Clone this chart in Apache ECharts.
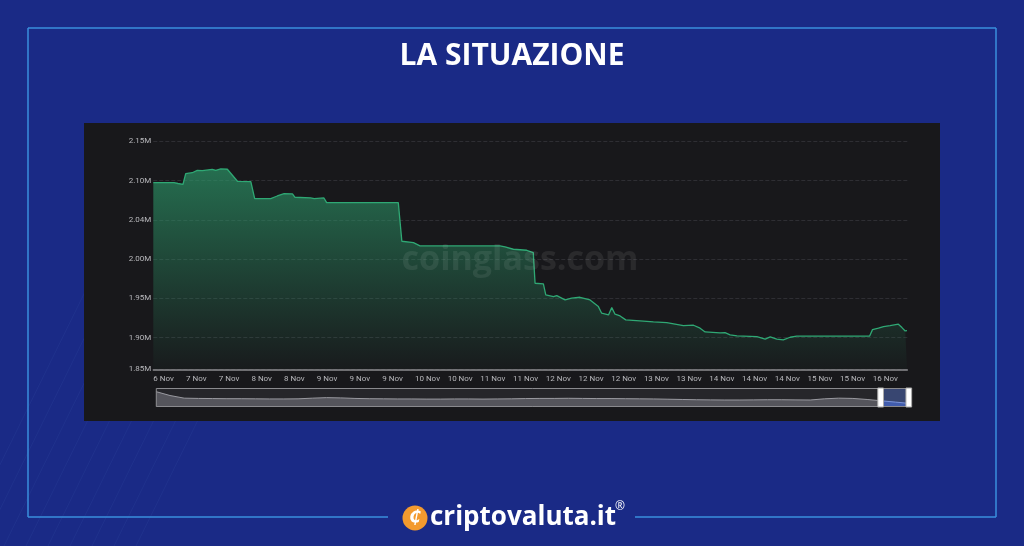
<!DOCTYPE html>
<html>
<head>
<meta charset="utf-8">
<script src="https://cdn.jsdelivr.net/npm/echarts@6/dist/echarts.min.js"></script>
<style>
html,body{margin:0;padding:0;background:#1a2a86;}
#c{width:1024px;height:546px;}
</style>
</head>
<body>
<div id="c"></div>
<script>
// x tick labels (one every 11 hours)
const xLabels = ['6 Nov','7 Nov','7 Nov','8 Nov','8 Nov','9 Nov','9 Nov','9 Nov','10 Nov','10 Nov','11 Nov','11 Nov','12 Nov','12 Nov','12 Nov','13 Nov','13 Nov','14 Nov','14 Nov','14 Nov','15 Nov','15 Nov','16 Nov'];
// y tick values and labels as shown on the source chart
const yTicks = [1859800,1900000,1950000,2000000,2050000,2100000,2150000];
const yLabels = ['1.85M','1.90M','1.95M','2.00M','2.04M','2.10M','2.15M'];
// hours since the first tick
const hours = [0,7.0,8.3,10.0,10.3,10.9,13.1,14.8,16.5,19.8,21.0,22.7,24.9,28.3,32.8,33.4,34.1,39.5,41.7,44.0,46.8,47.6,52.9,54.1,57.4,58.3,82.4,83.6,87.5,89.7,116.6,118.3,121.1,125.6,127.8,128.4,131.2,132.0,134.6,135.7,138.5,140.7,143.5,146.9,149.7,150.8,153.1,154.2,155.3,157.0,158.9,163.7,168.2,172.7,178.3,181.7,183.9,185.6,190.6,192.3,194.0,196.3,203.0,205.8,207.5,209.7,211.9,214.2,216.4,240.9,241.9,243.9,245.6,247.8,250.6,251.8,252.9,253.5];
// values
const values = [2097300,2097300,2096300,2095300,2095700,2108800,2110000,2113100,2112600,2114400,2113100,2114800,2114400,2099100,2098600,2098600,2077000,2077000,2080400,2083400,2083000,2078800,2077900,2077000,2077900,2071900,2071900,2022800,2021000,2016800,2016800,2015500,2012600,2011300,2008300,1969300,1968400,1954500,1952300,1953600,1948100,1950300,1951500,1948100,1939600,1931200,1929000,1938300,1929900,1927700,1922700,1921400,1920100,1919200,1915400,1915900,1912100,1907400,1906100,1906500,1903600,1902300,1901400,1898100,1901000,1898100,1897200,1900600,1901900,1901900,1910300,1912100,1914100,1915400,1917200,1912900,1908600,1909000];
// overview shape shown in the slider
const overview = [2150,2120,2100,2098,2097,2096,2096,2095,2094,2094,2095,2100,2104,2102,2098,2096,2095,2094,2094,2093,2093,2094,2094,2093,2094,2095,2097,2098,2098,2099,2098,2097,2097,2096,2095,2094,2092,2090,2088,2087,2086,2086,2087,2088,2088,2087,2086,2095,2100,2098,2090,2080,2070,2060];

const seriesData = hours.map((h, i) => [h, values[i]]);
const overviewData = overview.map((v, i) => [i, v]);

const stripes = [];
for (let k = 0; k < 9; k++) {
  const x0 = -40 + k * 22;
  stripes.push({type: 'line', z: -20, shape: {x1: x0, y1: 546, x2: x0 + 180, y2: 180}, style: {stroke: 'rgba(120,150,230,0.07)', lineWidth: 1}});
}

const chart = echarts.init(document.getElementById('c'), null, {renderer: 'canvas'});
const green = '#2fa874';
chart.setOption({
  backgroundColor: '#1a2a86',
  animation: false,
  graphic: stripes.concat([
    {type: 'rect', shape: {x: 84, y: 123, width: 856, height: 298}, style: {fill: '#18181b'}, z: -10},
    {type: 'line', shape: {x1: 28, y1: 28, x2: 996, y2: 28}, style: {stroke: '#3a8fdc', lineWidth: 1.5}},
    {type: 'line', shape: {x1: 28, y1: 28, x2: 28, y2: 517}, style: {stroke: '#3a8fdc', lineWidth: 1.5}},
    {type: 'line', shape: {x1: 996, y1: 28, x2: 996, y2: 517}, style: {stroke: '#3a8fdc', lineWidth: 1.5}},
    {type: 'line', shape: {x1: 28, y1: 517, x2: 388, y2: 517}, style: {stroke: '#3a8fdc', lineWidth: 1.5}},
    {type: 'line', shape: {x1: 635, y1: 517, x2: 996, y2: 517}, style: {stroke: '#3a8fdc', lineWidth: 1.5}},
    {type: 'text', x: 512, y: 56, style: {text: 'LA SITUAZIONE', fill: '#ffffff', font: 'bold 30px "Open Sans", Lato, sans-serif', textAlign: 'center', textVerticalAlign: 'middle'}},
    {type: 'text', x: 520, y: 260, z: 10, style: {text: 'coinglass.com', fill: 'rgba(255,255,255,0.08)', font: 'bold 34px "Open Sans", sans-serif', textAlign: 'center', textVerticalAlign: 'middle'}},
    {type: 'circle', shape: {cx: 415, cy: 518, r: 12.5}, style: {fill: '#f39a2e'}},
    {type: 'text', x: 415, y: 519, style: {text: '₵', fill: '#ffffff', font: 'bold italic 17px "DejaVu Sans", sans-serif', textAlign: 'center', textVerticalAlign: 'middle'}},
    {type: 'text', x: 430, y: 518, style: {text: 'criptovaluta.it', fill: '#ffffff', font: 'bold 26px "Open Sans", sans-serif', textAlign: 'left', textVerticalAlign: 'middle'}},
    {type: 'text', x: 615, y: 507, style: {text: '®', fill: '#ffffff', font: '12px "Open Sans", sans-serif', textAlign: 'left', textVerticalAlign: 'middle'}}
  ]),
  grid: [
    {left: 153.3, right: 116.7, top: 141.3, bottom: 176.7},
    {left: 153.3, right: 116.7, top: 388, height: 19, show: false}
  ],
  xAxis: [
    {
      type: 'value', min: 0, max: 253.6, interval: 11,
      axisLine: {show: true, lineStyle: {color: '#8a8a8e', width: 1.5}},
      axisTick: {show: false},
      splitLine: {show: false},
      axisLabel: {
        color: '#b8b8bc', fontSize: 8, margin: 6, align: 'left', fontFamily: 'Roboto, sans-serif',
        showMaxLabel: false,
        formatter: (v) => {
          const k = Math.round(v / 11);
          return Math.abs(v - k * 11) < 0.01 && xLabels[k] ? xLabels[k] : '';
        }
      }
    },
    {type: 'value', gridIndex: 1, show: false, min: 0, max: overview.length - 1}
  ],
  yAxis: [
    {
      type: 'value', min: yTicks[0], max: yTicks[yTicks.length - 1],
      axisLine: {show: false},
      axisTick: {show: false, customValues: yTicks},
      splitLine: {show: true, lineStyle: {color: '#2e2e33', type: 'dashed', width: 1}},
      axisLabel: {
        customValues: yTicks,
        color: '#b8b8bc', fontSize: 8, margin: 2, fontFamily: 'Roboto, sans-serif',
        formatter: (v) => {
          const i = yTicks.indexOf(v);
          return i >= 0 ? yLabels[i] : '';
        }
      }
    },
    {type: 'value', gridIndex: 1, show: false, scale: true}
  ],
  dataZoom: [{
    type: 'slider', xAxisIndex: 1, filterMode: 'none',
    start: 96, end: 100,
    left: 153.3, right: 116.7, top: 388, height: 19,
    backgroundColor: 'rgba(60,60,66,0.4)',
    borderColor: '#8a8a8e',
    fillerColor: 'rgba(80,110,200,0.45)',
    dataBackground: {lineStyle: {color: '#9a9aa0', width: 1}, areaStyle: {color: '#55555c', opacity: 1}},
    selectedDataBackground: {lineStyle: {color: '#9fb3e8', width: 1}, areaStyle: {color: '#3b58b0', opacity: 0.8}},
    handleSize: '100%',
    handleIcon: 'path://M0,0 L6,0 L6,20 L0,20 Z',
    handleStyle: {color: '#ffffff', borderColor: '#aaaaaa'},
    moveHandleSize: 4,
    moveHandleStyle: {color: '#8a8a9a'},
    showDetail: false,
    brushSelect: false
  }],
  series: [
    {
      type: 'line', data: seriesData, xAxisIndex: 0, yAxisIndex: 0,
      showSymbol: false, symbol: 'none',
      lineStyle: {color: green, width: 1.3},
      areaStyle: {
        color: new echarts.graphic.LinearGradient(0, 0, 0, 1, [
          {offset: 0, color: 'rgba(45,160,110,0.9)'},
          {offset: 0.45, color: 'rgba(45,160,110,0.5)'},
          {offset: 1, color: 'rgba(45,160,110,0.03)'}
        ])
      }
    },
    {
      type: 'line', data: overviewData, xAxisIndex: 1, yAxisIndex: 1,
      showSymbol: false, silent: true,
      lineStyle: {opacity: 0}
    }
  ]
});
</script>
</body>
</html>
